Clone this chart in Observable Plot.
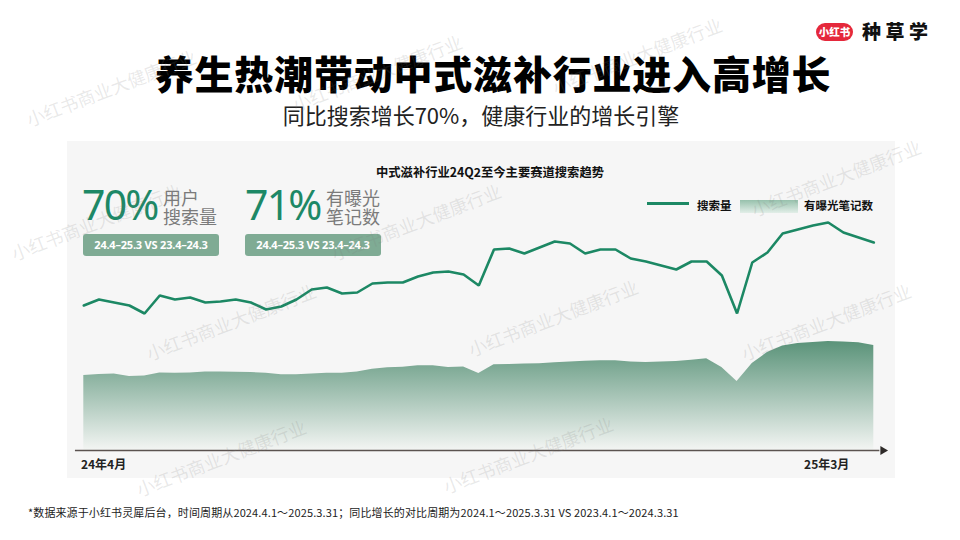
<!DOCTYPE html>
<html><head><meta charset="utf-8">
<script src="https://cdn.jsdelivr.net/npm/d3@7"></script>
<script src="https://cdn.jsdelivr.net/npm/@observablehq/plot@0.6"></script>
<style>
html,body{margin:0;padding:0;}
body{width:960px;height:540px;background:#fff;position:relative;overflow:hidden;font-family:"Noto Sans CJK SC","Noto Sans",sans-serif;color:#111;}
.abs{position:absolute;white-space:nowrap;}
.panel{left:67px;top:141px;width:828px;height:337px;background:#f6f6f6;}
.title{left:0;width:986px;text-align:center;top:53px;font-size:39px;line-height:39px;font-weight:900;letter-spacing:0.8px;color:#000;}
.subtitle{left:0;width:962px;text-align:center;top:103px;font-size:22px;line-height:22px;color:#222;}
.ctitle{left:0;width:980px;text-align:center;top:165px;font-size:12.3px;line-height:14px;font-weight:700;color:#111;}
.big{font-family:"Noto Sans",sans-serif;font-size:41px;line-height:41px;color:#1d8866;letter-spacing:-1.8px;}
.lab{font-size:18px;line-height:18px;color:#7b7b7b;}
.box{height:22px;border-radius:3px;background:#7fab94;color:#fff;font-family:"Noto Sans",sans-serif;font-weight:700;font-size:11px;line-height:22px;text-align:center;letter-spacing:-0.2px;}
.leg{font-size:11.5px;line-height:13px;font-weight:700;color:#111;}
.wm{font-size:18px;line-height:18px;color:rgba(120,120,120,0.17);transform:rotate(-21deg);transform-origin:0 100%;pointer-events:none;}
#plotwrap{position:absolute;left:67px;top:141px;}
</style></head><body>
<div class="abs panel"></div>

<div class="abs title">养生热潮带动中式滋补行业进入高增长</div>
<div class="abs subtitle">同比搜索增长70%，健康行业的增长引擎</div>

<div class="abs" style="left:816px;top:23px;width:37px;height:18px;border-radius:9px;background:#e5283b;color:#fff;font-size:10.5px;line-height:18px;font-weight:900;text-align:center;">小红书</div>
<div class="abs" style="left:862px;top:21px;font-size:19px;line-height:20px;font-weight:900;letter-spacing:4.5px;color:#111;">种草学</div>

<div class="abs ctitle">中式滋补行业24Q2至今主要赛道搜索趋势</div>

<div class="abs big" style="left:82px;top:184px;">70%</div>
<div class="abs lab" style="left:163px;top:188px;">用户</div>
<div class="abs lab" style="left:163px;top:207px;">搜索量</div>
<div class="abs box" style="left:83px;top:234px;width:136px;">24.4–25.3 VS 23.4–24.3</div>

<div class="abs big" style="left:245px;top:184px;">71%</div>
<div class="abs lab" style="left:326px;top:188px;">有曝光</div>
<div class="abs lab" style="left:326px;top:207px;">笔记数</div>
<div class="abs box" style="left:245px;top:234px;width:136px;">24.4–25.3 VS 23.4–24.3</div>

<div class="abs" style="left:647px;top:202px;width:42px;height:3px;background:#1c8864;"></div>
<div class="abs leg" style="left:697px;top:199px;">搜索量</div>
<div class="abs" style="left:740px;top:200px;width:58px;height:13px;background:linear-gradient(#97c1ac,#e2eee8);"></div>
<div class="abs leg" style="left:804px;top:199px;">有曝光笔记数</div>

<div id="plotwrap"></div>

<div class="abs" style="left:28px;top:506px;font-size:11px;line-height:13px;color:#222;letter-spacing:0.12px;">*数据来源于小红书灵犀后台，时间周期从2024.4.1～2025.3.31；同比增长的对比周期为2024.1～2025.3.31 VS 2023.4.1～2024.3.31</div>

<div id="wms"></div>

<script>
// weekly search volume index (2024.4 – 2025.3)
const searchVolume = [145,151,148,145,137,155,151,153,148,149,151,148,141,144,151,161,163,157,158,167,168,168,174,178,179,176,165,201,202,197,203,209,207,197,201,201,192,189,185,181,189,189,175,137,188,198,217,221,225,228,218,213,208];
// weekly exposed-notes count index
const notesCount = [75,76,76.5,74,74.5,77.4,77.3,77.5,78.4,78.5,78.2,77.9,77.2,75.7,75.7,76.5,77.3,77.3,78.5,81.2,82.8,83.3,84.8,84.7,83,83.5,77,85.8,86,86.4,86.8,87.7,88.6,89.2,89.7,89.7,88.5,88,88.5,89,90.2,91.7,83,69,87,98,104.5,107,108,109,108.5,107.7,105];
// x tick labels and their week positions
const xTickLabels = ["24年4月", "25年3月"];
const xTickWeeks = [1.3, 48.9];

const rows = searchVolume.map((s, i) => ({week: i, search: s, notes: notesCount[i]}));
const lastWeek = rows.length - 1;

const chart = Plot.plot({
  width: 828,
  height: 337,
  style: {background: "transparent", overflow: "visible", fontFamily: "'Noto Sans CJK SC', sans-serif"},
  x: {domain: [0, lastWeek], range: [16.3, 806.3], axis: null},
  y: {domain: [0, 230], range: [309, 79], axis: null},
  marks: [
    Plot.areaY(rows, {x: "week", y: "notes", fill: "url(#notesGrad)"}),
    Plot.lineY(rows, {x: "week", y: "search", stroke: "#1c8864", strokeWidth: 2.6, strokeLinejoin: "miter"}),
    Plot.ruleY([0], {x1: -0.55, x2: lastWeek + 0.4, stroke: "#5b5350", strokeWidth: 1.5}),
    Plot.dot([0], {x: lastWeek + 0.6, y: 0, symbol: "triangle", rotate: 90, r: 3.3, fill: "#2e2a28"}),
    Plot.text(xTickLabels, {x: (d, i) => xTickWeeks[i], y: 0, text: d => d, dy: 15, fontSize: 12, fontWeight: 700, fill: "#222"})
  ]
});

const svg = d3.select(chart);
const ys = chart.scale("y");
const defs = svg.insert("defs", ":first-child");
const grad = defs.append("linearGradient").attr("id", "notesGrad")
  .attr("gradientUnits", "userSpaceOnUse")
  .attr("x1", 0).attr("x2", 0)
  .attr("y1", ys.apply(d3.max(notesCount))).attr("y2", ys.apply(0));
grad.append("stop").attr("offset", 0).attr("stop-color", "#5a9379");
grad.append("stop").attr("offset", 1).attr("stop-color", "#f3f5f3");

document.getElementById("plotwrap").appendChild(chart);

// watermarks
const wmText = "小红书商业大健康行业";
const wmSpots = [[30,128],[296,113],[556,96],[15,262],[335,262],[755,218],[150,362],[472,358],[745,362],[140,498],[447,495]];
const wms = document.getElementById("wms");
wmSpots.forEach(([x, y]) => {
  const d = document.createElement("div");
  d.className = "abs wm";
  d.style.left = x + "px";
  d.style.top = (y - 18) + "px";
  d.textContent = wmText;
  wms.appendChild(d);
});
</script>
</body></html>
